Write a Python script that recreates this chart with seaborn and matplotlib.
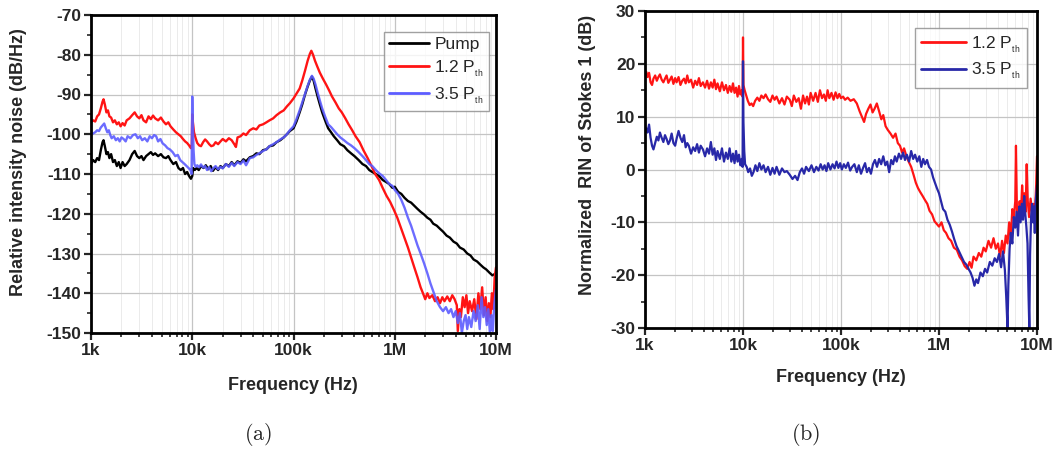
import numpy as np
import pandas as pd
import matplotlib
matplotlib.use("Agg")
import matplotlib.pyplot as plt
import matplotlib.ticker as mticker
import seaborn as sns

# ---------------- data (frequency in kHz, noise in dB) ----------------
pump_f = [1.0, 1.05, 1.1, 1.15, 1.2, 1.25, 1.3, 1.33, 1.37, 1.42, 1.47, 1.52, 1.58, 1.65, 1.72, 1.8, 1.88, 1.96,
          2.05, 2.15, 2.25, 2.4, 2.55, 2.7, 2.85, 3.0, 3.15, 3.3, 3.5, 3.7, 3.9, 4.1, 4.3, 4.6, 4.9, 5.2, 5.5, 5.8,
          6.1, 6.5, 6.9, 7.3, 7.7, 8.1, 8.5, 8.9, 9.3, 9.7, 10.0, 10.2, 10.6, 11.0, 11.6, 12.2, 12.9, 13.6, 14.4,
          15.2, 16.0, 17.0, 18.0, 19.0, 20.0, 21.5, 23, 24.5, 26, 28, 30, 32, 34, 37, 40, 43, 46, 50, 54, 58, 63,
          68, 74, 80, 86, 92, 100, 107, 115, 122, 130, 138, 145, 152, 158, 165, 173, 182, 192, 205, 220, 235, 250,
          270, 290, 315, 340, 370, 400, 440, 480, 520, 560, 600, 650, 700, 760, 820, 880, 950, 1000, 1080, 1160,
          1250, 1350, 1450, 1560, 1680, 1800, 1950, 2100, 2250, 2400, 2600, 2800, 3000, 3250, 3500, 3800, 4100,
          4400, 4800, 5200, 5600, 6000, 6500, 7000, 7500, 8000, 8600, 9200, 10000]
pump_v = [-107.5, -106.5, -107, -106, -106.5, -104, -102, -101.5, -103, -105, -104.5, -106, -105, -107, -106.5,
          -108, -107, -108.5, -107, -108, -107.5, -106.5, -105, -104.2, -105.5, -106, -105.5, -106.5, -105.5, -105,
          -104.5, -105.2, -104.8, -105.5, -105, -105.8, -106, -105.5, -106.5, -107.5, -107, -108.5, -109, -108.5,
          -110, -109.5, -110.5, -111.2, -110.5, -108.5, -109, -108.5, -109, -108, -108.5, -107.8, -108.8, -108,
          -109.2, -108.3, -109, -108, -108.5, -107.5, -108, -107, -107.8, -106.8, -107.2, -106.3, -106.8, -105.8,
          -105.5, -104.8, -105, -104, -103.8, -103, -102.8, -102, -101.5, -100.8, -100, -99.2, -98.5, -96.8, -94.5,
          -92.5, -90, -88, -86.5, -85.5, -86.5, -88.5, -90.5, -92.5, -94.5, -96.5, -98.5, -99.5, -100.5, -101.5,
          -102.5, -103, -104, -104.8, -105.5, -106.5, -107.5, -108, -109, -109.5, -110, -110.5, -111.5, -112,
          -112.5, -113.5, -113.2, -114.5, -115, -116, -116.8, -117.2, -118, -118.8, -119.5, -120.2, -121, -121.5,
          -122.5, -123, -123.8, -124.5, -125.5, -126, -127, -127.5, -128.5, -129, -130, -130.5, -131.5, -132,
          -132.8, -133.5, -134, -134.8, -135.5, -135]

a12_f = [1.0, 1.05, 1.1, 1.15, 1.2, 1.25, 1.3, 1.33, 1.37, 1.42, 1.47, 1.52, 1.58, 1.65, 1.72, 1.8, 1.88, 1.96,
         2.05, 2.15, 2.25, 2.4, 2.55, 2.7, 2.85, 3.0, 3.15, 3.3, 3.5, 3.7, 3.9, 4.1, 4.3, 4.6, 4.9, 5.2, 5.5, 5.8,
         6.1, 6.5, 6.9, 7.3, 7.7, 8.1, 8.5, 8.9, 9.3, 9.7, 9.9, 10.0, 10.15, 10.4, 10.8, 11.2, 11.7, 12.2, 12.8,
         13.4, 14.0, 14.7, 15.4, 16.2, 17.0, 18.0, 19.0, 20.0, 21.5, 23, 24.5, 26, 27, 28, 30, 32, 34, 37, 40, 43,
         46, 50, 54, 58, 63, 68, 74, 80, 86, 92, 100, 107, 115, 122, 130, 138, 145, 150, 156, 163, 172, 182, 195,
         210, 225, 240, 260, 280, 300, 325, 350, 380, 410, 450, 490, 540, 590, 640, 700, 760, 830, 900, 980, 1060,
         1150, 1250, 1350, 1450, 1560, 1680, 1800, 1900, 2000, 2100, 2200, 2350, 2500, 2650, 2800, 2950, 3100,
         3300, 3500, 3700, 3900, 4100, 4200, 4350, 4500, 4700, 4900, 5100, 5300, 5500, 5800, 6100, 6400, 6700,
         7000, 7300, 7600, 7900, 8200, 8500, 8800, 9100, 9400, 9700, 10000]
a12_v = [-97, -96.5, -96.8, -95.5, -95, -93.5, -91.8, -91.2, -92.5, -94.5, -94, -95.5, -95.8, -97, -96.5, -97.5,
         -97, -98, -97.2, -97.8, -96.5, -96, -95.2, -94.5, -95.5, -96, -95.2, -96.5, -97, -95.5, -96.2, -95.3, -96,
         -96.5, -95.8, -96.8, -97.5, -97, -98, -98.8, -99.5, -100, -100.5, -101.2, -101.8, -102.2, -102.8, -103.5,
         -102.5, -95, -97, -99.5, -101, -102.2, -102.8, -103, -102, -101.3, -101.8, -102.5, -103, -102.8, -102,
         -102.5, -101.8, -101.2, -101.8, -101, -101.5, -102.5, -103.2, -100.8, -100.5, -99.8, -100.2, -99, -98.5,
         -98.8, -97.8, -97.5, -97, -96.5, -96, -95.2, -94.5, -94, -93, -92.2, -91, -89.8, -88.5, -86.5, -84, -81.5,
         -79.8, -79, -80, -81.5, -83, -84.5, -86, -87.5, -89, -90.5, -92, -93.5, -94.5, -96, -97.5, -99, -100.5,
         -102, -104, -106, -108, -110, -111.5, -113.5, -115.5, -117, -119, -121, -123.5, -126, -128.5, -131,
         -133.5, -136, -138.5, -140, -141.5, -140, -141.2, -140.5, -142, -141, -142.5, -141, -142, -140.8, -142,
         -140.5, -141.5, -143, -149.5, -144, -146, -141, -143.5, -140.5, -145, -142, -144.5, -141.5, -146.5, -140,
         -144, -138.5, -145.5, -141, -147, -142.5, -146, -140, -144, -136, -133.5]

a35_f = [1.0, 1.05, 1.1, 1.15, 1.2, 1.25, 1.3, 1.35, 1.4, 1.45, 1.5, 1.55, 1.6, 1.68, 1.76, 1.84, 1.92, 2.0, 2.1,
         2.2, 2.3, 2.45, 2.6, 2.75, 2.9, 3.05, 3.2, 3.4, 3.6, 3.8, 4.0, 4.2, 4.4, 4.6, 4.85, 5.1, 5.4, 5.7, 6.0,
         6.4, 6.8, 7.2, 7.6, 8.0, 8.4, 8.8, 9.2, 9.6, 9.85, 10.0, 10.1, 10.3, 10.5, 10.8, 11.2, 11.7, 12.2, 12.8,
         13.4, 14.0, 14.7, 15.4, 16.2, 17.0, 18.0, 19.0, 20.0, 21.5, 23, 24.5, 26, 28, 30, 32, 34, 37, 40, 43, 46,
         50, 54, 58, 63, 68, 74, 80, 86, 92, 100, 107, 115, 122, 130, 138, 145, 152, 158, 165, 173, 182, 192, 205,
         220, 235, 250, 270, 290, 315, 340, 370, 400, 440, 480, 520, 560, 600, 650, 700, 760, 820, 880, 950, 1000,
         1080, 1160, 1250, 1350, 1450, 1560, 1680, 1800, 1950, 2100, 2250, 2400, 2600, 2800, 3000, 3200, 3400,
         3600, 3800, 4000, 4200, 4400, 4600, 4800, 5000, 5200, 5400, 5700, 6000, 6300, 6600, 6900, 7200, 7500,
         7800, 8100, 8400, 8700, 9000, 9300, 9600, 10000]
a35_v = [-100.2, -99.8, -99.5, -99, -99.2, -98.3, -97.8, -97.3, -98.5, -99.5, -99, -100.2, -101, -100.5, -101.5,
         -101, -101.8, -100.8, -101.2, -101.8, -100.5, -101, -100.2, -100, -101, -100.5, -101.5, -101, -101.8,
         -100.5, -101, -100.2, -100.5, -101.8, -101.2, -102.3, -102.8, -103.5, -103.8, -104.5, -105.5, -105.2,
         -106.5, -107, -107.5, -108, -108.5, -109, -110, -90.5, -96, -104, -107.5, -108.2, -107.8, -108.3, -107.6,
         -108.4, -108, -109, -108.3, -109.3, -108.5, -108, -108.8, -108.2, -108.6, -107.5, -108.2, -107.2, -108,
         -107, -107.5, -106.6, -107.8, -106, -105.8, -105.2, -104.8, -104.2, -103.8, -103, -102.5, -102, -101.3,
         -100.8, -100, -99, -98, -96.2, -94, -92, -89.8, -87.8, -86.3, -85.3, -86, -87.5, -89.5, -91.5, -93.5,
         -95.5, -97.5, -98.2, -99, -100, -100.8, -101.5, -102.2, -102.8, -103.5, -104.5, -105.5, -106.5, -107.5,
         -108, -109, -109.8, -110.5, -111.5, -112.5, -113, -114, -115, -116.5, -118.5, -121, -123, -125.5, -128,
         -130, -132.5, -135, -137.5, -139.5, -142, -143.5, -144.5, -143.5, -145, -144, -146, -144.5, -147.5, -145,
         -150, -147, -145.5, -149, -146, -148.5, -144.5, -147, -143, -149, -141, -146, -143.5, -148, -144, -150,
         -145.5, -149.5, -143, -139]

b12_f = [1.0, 1.03, 1.06, 1.1, 1.14, 1.18, 1.22, 1.27, 1.32, 1.37, 1.42, 1.48, 1.54, 1.6, 1.66, 1.73, 1.8, 1.87,
         1.95, 2.03, 2.1, 2.2, 2.3, 2.4, 2.5, 2.6, 2.7, 2.8, 2.95, 3.1, 3.25, 3.4, 3.55, 3.7, 3.9, 4.1, 4.3, 4.5,
         4.7, 4.9, 5.1, 5.3, 5.5, 5.8, 6.1, 6.4, 6.7, 7.0, 7.3, 7.6, 7.9, 8.2, 8.5, 8.8, 9.1, 9.4, 9.7, 9.9, 10.0,
         10.1, 10.4, 10.8, 11.2, 11.7, 12.2, 12.7, 13.3, 14, 14.7, 15.4, 16.2, 17, 18, 19, 20, 21, 22, 23.5, 25,
         26.5, 28, 30, 31.5, 33, 35, 37, 39, 41, 43, 45, 47, 49, 52, 55, 58, 61, 64, 67, 70, 73, 76, 80, 84, 88,
         92, 96, 100, 105, 110, 117, 125, 135, 145, 155, 165, 172, 180, 190, 200, 210, 220, 232, 245, 258, 270,
         285, 300, 320, 340, 360, 380, 400, 420, 440, 460, 490, 520, 550, 580, 610, 640, 680, 720, 760, 800, 850,
         900, 950, 1000, 1060, 1120, 1180, 1250, 1330, 1420, 1520, 1620, 1720, 1830, 1940, 2050, 2150, 2250, 2400,
         2550, 2700, 2850, 3000, 3200, 3400, 3600, 3800, 4000, 4200, 4400, 4600, 4800, 5000, 5200, 5400, 5600,
         5800, 6000, 6100, 6250, 6450, 6650, 6850, 7050, 7250, 7450, 7650, 7850, 8050, 8300, 8600, 8900, 9200,
         9500, 9800, 10000]
b12_v = [18, 18.5, 17.5, 18.3, 16.5, 16, 17.2, 17.8, 16.8, 17.5, 18, 17, 16.5, 17.2, 17.8, 16.4, 17, 17.6, 16.2,
         17.3, 16.5, 17.5, 16, 16.8, 17.2, 16.3, 17.8, 16.5, 17, 15.5, 16.8, 16, 17.3, 15.8, 16.5, 15.5, 16.8, 15.3,
         16.5, 15.5, 17, 15.2, 16.3, 14.8, 16.5, 15, 16, 14.5, 15.8, 14.7, 16.3, 14.5, 15.5, 13.8, 15.8, 14.2, 15,
         13.8, 25, 16, 15, 14, 13, 12.2, 12.5, 12, 13, 13.6, 13, 14, 13.5, 14.2, 13.3, 12.8, 14, 13.2, 13.8, 12.5,
         13.5, 12.3, 13.8, 13.2, 12, 14, 12.8, 13.5, 11.5, 14, 12.5, 13.8, 12.3, 14.5, 13, 14.5, 12.8, 15, 13.5,
         14.2, 13, 15, 13.5, 14.5, 13.2, 14.6, 13.5, 14.3, 13.5, 13.8, 13.2, 13.6, 13, 13.3, 12.5, 11, 9.8, 9, 10.5,
         11.5, 12.3, 10.8, 11.5, 12.5, 11, 9.5, 10.3, 8.2, 7.5, 6.8, 6, 6.8, 5, 4.5, 3.2, 4, 2.8, 1.5, 0.5, -1,
         -2.5, -3.5, -4.2, -5, -5.8, -6.5, -7.8, -8.5, -9.8, -10.3, -10.8, -10, -11.5, -12, -13, -13.5, -14.8,
         -15.2, -16.5, -17.2, -18.3, -18.8, -17.5, -18.6, -16.5, -17.2, -15.8, -16.5, -14.8, -15.5, -13.5, -14.8,
         -13, -15, -14, -16.5, -13.5, -15.8, -12.5, -14, -10, -13, -7.5, -9, -6, 4.5, -8.5, -9.5, -6, -8.5, -3, -7,
         -4.5, -8, 1, -6, -9, -5.5, -8, -6.5, -9, -3, 2.5]

b35_f = [1.0, 1.03, 1.06, 1.1, 1.14, 1.18, 1.22, 1.27, 1.32, 1.37, 1.42, 1.48, 1.54, 1.6, 1.66, 1.73, 1.8, 1.87,
         1.95, 2.03, 2.1, 2.2, 2.3, 2.4, 2.5, 2.6, 2.7, 2.8, 2.95, 3.1, 3.25, 3.4, 3.55, 3.7, 3.9, 4.1, 4.3, 4.5,
         4.7, 4.9, 5.1, 5.3, 5.5, 5.8, 6.1, 6.4, 6.7, 7.0, 7.3, 7.6, 7.9, 8.2, 8.5, 8.8, 9.1, 9.4, 9.7, 9.9, 10.0,
         10.1, 10.3, 10.5, 10.9, 11.3, 11.8, 12.3, 12.8, 13.4, 14, 14.7, 15.4, 16.2, 17, 18, 19, 20, 21, 22, 23.5,
         25, 26.5, 28, 30, 32, 34, 36, 38, 40, 42, 44, 47, 50, 53, 56, 59, 62, 65, 68, 71, 74, 78, 82, 86, 90, 94,
         98, 102, 107, 112, 118, 124, 130, 137, 145, 152, 160, 168, 176, 184, 193, 202, 212, 222, 233, 245, 257,
         270, 283, 296, 310, 325, 340, 355, 370, 390, 410, 430, 450, 470, 495, 520, 545, 570, 600, 630, 660, 690,
         720, 755, 790, 830, 870, 910, 950, 1000, 1050, 1100, 1160, 1220, 1290, 1360, 1430, 1510, 1600, 1700,
         1800, 1900, 2000, 2100, 2200, 2300, 2400, 2500, 2650, 2800, 2950, 3100, 3300, 3500, 3700, 3900, 4100,
         4300, 4500, 4700, 4850, 5000, 5100, 5250, 5400, 5600, 5800, 6000, 6200, 6400, 6600, 6800, 7000, 7200,
         7400, 7600, 7800, 8000, 8200, 8350, 8500, 8700, 8900, 9100, 9300, 9500, 9700, 10000]
b35_v = [7.5, 7.8, 7, 8.5, 6, 4.5, 3.8, 5, 6.2, 5.5, 7, 6, 5.2, 6.5, 5.8, 4.8, 5.5, 6.8, 5, 4.5, 5.8, 7.3, 6, 5.2,
         6.5, 4.2, 5, 4.5, 3, 4.2, 3.5, 4.8, 3.2, 4.5, 3.8, 2.5, 4, 3, 5.2, 2.8, 4, 1.8, 3.5, 2, 4, 1.5, 3.2, 2, 4,
         1.5, 3, 1.2, 3.5, 1.5, 2.8, 0.8, 2, 0.5, 20.5, 9, 3.5, 1, 0.5, -0.5, 0.2, -1.2, -0.5, 0.8, -0.3, 1.2, 0,
         0.8, -0.5, 0.5, -1, 0.3, -0.8, 0.5, -1, 0.2, -0.5, -0.3, -1, -1.8, -1.2, -2, -0.5, 0.2, -0.8, 0.5, -0.3,
         0.8, -0.5, 0.5, -0.2, 1, 0, 0.8, -0.3, 1.2, 0, 1, 0.2, 1.5, 0.3, 1.2, 0, 1, 0.3, 1.3, -0.2, 0.5, 1, -0.5,
         0.8, -0.8, 0.3, 1.2, -0.5, 0.3, -0.8, 1, 1.8, 0.5, 2, 1, 2.5, 0.8, 1.5, -0.5, 1.8, 1, 2.5, 1.5, 3, 2, 3.2,
         1.8, 2.8, 1.5, 3.5, 2, 2.8, 1.5, 2.5, 0.5, 2, 1, 1.8, 0.5, 0, -1.5, -2.5, -3.5, -4.5, -6, -7.5, -8, -9.5,
         -10.5, -11.8, -13.2, -14.5, -15.5, -16.5, -17.5, -18, -18.8, -19.5, -20.5, -22, -20.8, -21.5, -19.5,
         -20.2, -18.8, -19.5, -17.5, -18.2, -16.8, -17.5, -16, -18.5, -15.5, -19, -24, -30, -22, -15, -12, -14,
         -9, -11, -8, -12.5, -7, -10, -6.5, -9.5, -5, -8.5, -11, -14, -24, -30, -16, -9, -6.5, -10, -7, -12, -6, -3]

x_ticks = [1e3, 1e4, 1e5, 1e6, 1e7]
x_tick_labels = ["1k", "10k", "100k", "1M", "10M"]

# ---------------- style ----------------
sns.set_style("white")
plt.rcParams["font.family"] = ["Liberation Sans", "DejaVu Sans"]
plt.rcParams["axes.unicode_minus"] = False
plt.rcParams["mathtext.fontset"] = "custom"
plt.rcParams["mathtext.rm"] = "Liberation Sans"
plt.rcParams["mathtext.it"] = "Liberation Sans:italic"
plt.rcParams["mathtext.bf"] = "Liberation Sans:bold"

W, H = 1055, 455
fig = plt.figure(figsize=(W / 100, H / 100), dpi=100)


def ax_at(x0, y0, x1, y1):
    return fig.add_axes([x0 / W, 1 - y1 / H, (x1 - x0) / W, (y1 - y0) / H])


axL = ax_at(91, 15, 496, 333)
axR = ax_at(645, 11, 1037, 328)


def to_df(f, v):
    return pd.DataFrame({"f": np.array(f, dtype=float) * 1000.0, "v": np.array(v, dtype=float)})


sub = r"$_{_{\mathrm{th}}}$"

sns.lineplot(data=to_df(pump_f, pump_v), x="f", y="v", ax=axL, color="black", lw=1.7,
             estimator=None, sort=False, label="Pump")
sns.lineplot(data=to_df(a12_f, a12_v), x="f", y="v", ax=axL, color="#ff1414", lw=1.7,
             estimator=None, sort=False, label="1.2 P" + sub)
sns.lineplot(data=to_df(a35_f, a35_v), x="f", y="v", ax=axL, color="#5c5cff", lw=1.7, alpha=0.9,
             estimator=None, sort=False, label="3.5 P" + sub)

sns.lineplot(data=to_df(b12_f, b12_v), x="f", y="v", ax=axR, color="#ff1414", lw=1.6,
             estimator=None, sort=False, label="1.2 P" + sub)
sns.lineplot(data=to_df(b35_f, b35_v), x="f", y="v", ax=axR, color="#2828a8", lw=1.6,
             estimator=None, sort=False, label="3.5 P" + sub)

for ax, ylim, yt in [(axL, (-150, -70), np.arange(-150, -69, 10)), (axR, (-30, 30), np.arange(-30, 31, 10))]:
    ax.set_xscale("log")
    ax.set_xlim(1e3, 1e7)
    ax.set_ylim(*ylim)
    ax.xaxis.set_major_locator(mticker.FixedLocator(x_ticks))
    ax.xaxis.set_major_formatter(mticker.FixedFormatter(x_tick_labels))
    ax.xaxis.set_minor_locator(mticker.LogLocator(base=10, subs=np.arange(2, 10), numticks=20))
    ax.xaxis.set_minor_formatter(mticker.NullFormatter())
    ax.yaxis.set_major_locator(mticker.FixedLocator(yt))
    ax.yaxis.set_major_formatter(mticker.FormatStrFormatter("%d"))
    ax.yaxis.set_minor_locator(mticker.MultipleLocator(5))
    ax.set_axisbelow(True)
    ax.grid(which="major", color="#c4c4c4", lw=0.9)
    ax.grid(which="minor", axis="x", color="#ebebeb", lw=0.7)
    for s in ax.spines.values():
        s.set_linewidth(2.0)
        s.set_color("black")
    ax.tick_params(which="major", direction="out", length=5, width=1.6, labelsize=12.5,
                   bottom=True, left=True, top=False, right=False, pad=2)
    ax.tick_params(which="minor", direction="out", length=3, width=1.2, bottom=True, left=True,
                   top=False, right=False)
    for lab in ax.get_xticklabels() + ax.get_yticklabels():
        lab.set_fontweight("bold")
    ax.set_xlabel("")
    ax.set_ylabel("")

legL = axL.legend(loc="upper right", bbox_to_anchor=(0.983, 0.947), borderaxespad=0, fontsize=12.5,
                  frameon=True, fancybox=False, edgecolor="#8a8a8a", handlelength=2.3, handletextpad=0.3,
                  labelspacing=0.35, borderpad=0.3)
legR = axR.legend(loc="upper right", bbox_to_anchor=(0.974, 0.946), borderaxespad=0, fontsize=12.5,
                  frameon=True, fancybox=False, edgecolor="#8a8a8a", handlelength=2.6, handletextpad=0.3,
                  labelspacing=0.35, borderpad=0.35)
for leg in (legL, legR):
    leg.get_frame().set_linewidth(1.0)
    for ln in leg.get_lines():
        ln.set_linewidth(2.0)
        ln.set_alpha(1)

fs_lab = 13
fig.text(293 / W, 1 - 385 / H, "Frequency (Hz)", ha="center", va="center", fontsize=fs_lab, fontweight="bold")
fig.text(841 / W, 1 - 377 / H, "Frequency (Hz)", ha="center", va="center", fontsize=fs_lab, fontweight="bold")
fig.text(19 / W, 1 - 162 / H, "Relative intensity noise (dB/Hz)", ha="center", va="center",
         rotation=90, fontsize=fs_lab, fontweight="bold")
fig.text(588 / W, 1 - 155 / H, "Normalized  RIN of Stokes 1 (dB)", ha="center", va="center",
         rotation=90, fontsize=fs_lab, fontweight="bold")

fig.text(258 / W, 1 - 435 / H, r"$\mathrm{(a)}$", ha="center", va="center", fontsize=16, math_fontfamily="cm")
fig.text(806 / W, 1 - 435 / H, r"$\mathrm{(b)}$", ha="center", va="center", fontsize=16, math_fontfamily="cm")

fig.savefig("out.png", dpi=100)
